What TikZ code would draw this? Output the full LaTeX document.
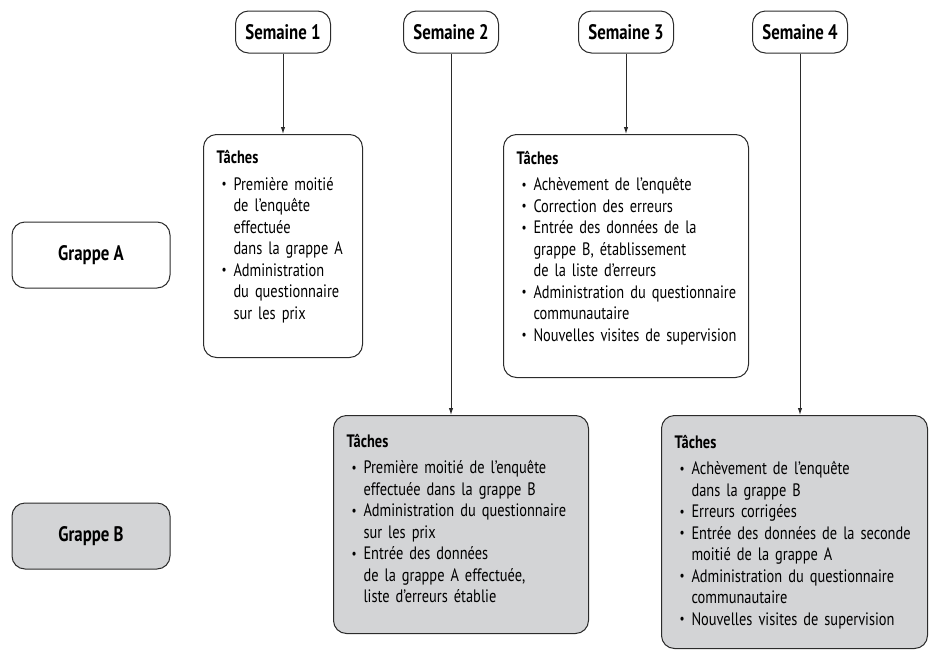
\documentclass[tikz,border=0pt]{standalone}
\usepackage{fontspec}
\setmainfont{PT Sans}[FakeStretch=0.8]
\usetikzlibrary{arrows.meta}
\definecolor{trait}{HTML}{2B2B2B}
\definecolor{gris}{HTML}{D3D4D6}
\newcommand{\titre}[1]{{\bfseries #1}\par\vspace{5pt}}
\newcommand{\puce}{\par\hyphenpenalty=10000\lineskiplimit=-6pt\rightskip=0pt plus 1fil minus 12pt\hangindent=17pt\hangafter=1\noindent\makebox[17pt][l]{\hspace{5pt}\raisebox{1.5pt}{\fontsize{14}{14}\selectfont\textbullet}}}
\newcommand{\basvide}[1]{\par\vspace{#1}\hrule height 0pt}
\tikzset{
  semaine/.style={draw=trait,line width=1pt,rounded corners=13pt,minimum width=95pt,minimum height=42pt,font=\fontsize{21}{22}\selectfont\bfseries},
  grappe/.style={draw=trait,line width=1pt,rounded corners=13pt,minimum width=158pt,minimum height=66pt,font=\fontsize{21}{22}\selectfont\bfseries},
  tache/.style={draw=trait,line width=1pt,rounded corners=13pt,anchor=north west,inner xsep=13pt,align=left,font=\fontsize{18}{21.5}\selectfont},
}
\begin{document}
\begin{tikzpicture}[x=1pt,y=-1pt,>={Latex[length=7pt,width=4.5pt]}]
\useasboundingbox (0,0) rectangle (930,651);
\node[semaine] (s1) at (283,32) {Semaine 1};
\node[semaine] (s2) at (451,32) {Semaine 2};
\node[semaine] (s3) at (626,32) {Semaine 3};
\node[semaine] (s4) at (800,32) {Semaine 4};
\node[grappe] (ga) at (91,255) {Grappe A};
\node[grappe,fill=gris] (gb) at (91,536) {Grappe B};
\node[tache,text width=133pt,minimum height=223pt] (t1) at (203,134) {\titre{Tâches}\puce Première moitié\newline de l’enquête\newline effectuée\newline dans la grappe A\puce Administration\newline du questionnaire\newline sur les prix\basvide{19pt}};
\node[tache,text width=219pt,minimum height=243pt] (t3) at (503,134) {\titre{Tâches}\puce Achèvement de l’enquête\puce Correction des erreurs\puce Entrée des données de la\newline grappe B, établissement\newline de la liste d’erreurs\puce Administration du questionnaire\newline communautaire\puce Nouvelles visites de supervision\basvide{16pt}};
\node[tache,fill=gris,text width=229pt,minimum height=218pt] (t2) at (333,415) {\titre{Tâches}\puce Première moitié de l’enquête\newline effectuée dans la grappe B\puce Administration du questionnaire\newline sur les prix\puce Entrée des données\newline de la grappe A effectuée,\newline liste d’erreurs établie\basvide{12pt}};
\node[tache,fill=gris,text width=240pt,minimum height=233pt] (t4) at (661,415) {\titre{Tâches}\puce Achèvement de l’enquête\newline dans la grappe B\puce Erreurs corrigées\puce Entrée des données de la seconde\newline moitié de la grappe A\puce Administration du questionnaire\newline communautaire\puce Nouvelles visites de supervision\par};
\draw[->,trait,line width=1pt] (s1)--(s1.south |- t1.north);
\draw[->,trait,line width=1pt] (s2)--(s2.south |- t2.north);
\draw[->,trait,line width=1pt] (s3)--(s3.south |- t3.north);
\draw[->,trait,line width=1pt] (s4)--(s4.south |- t4.north);
\end{tikzpicture}
\end{document}
